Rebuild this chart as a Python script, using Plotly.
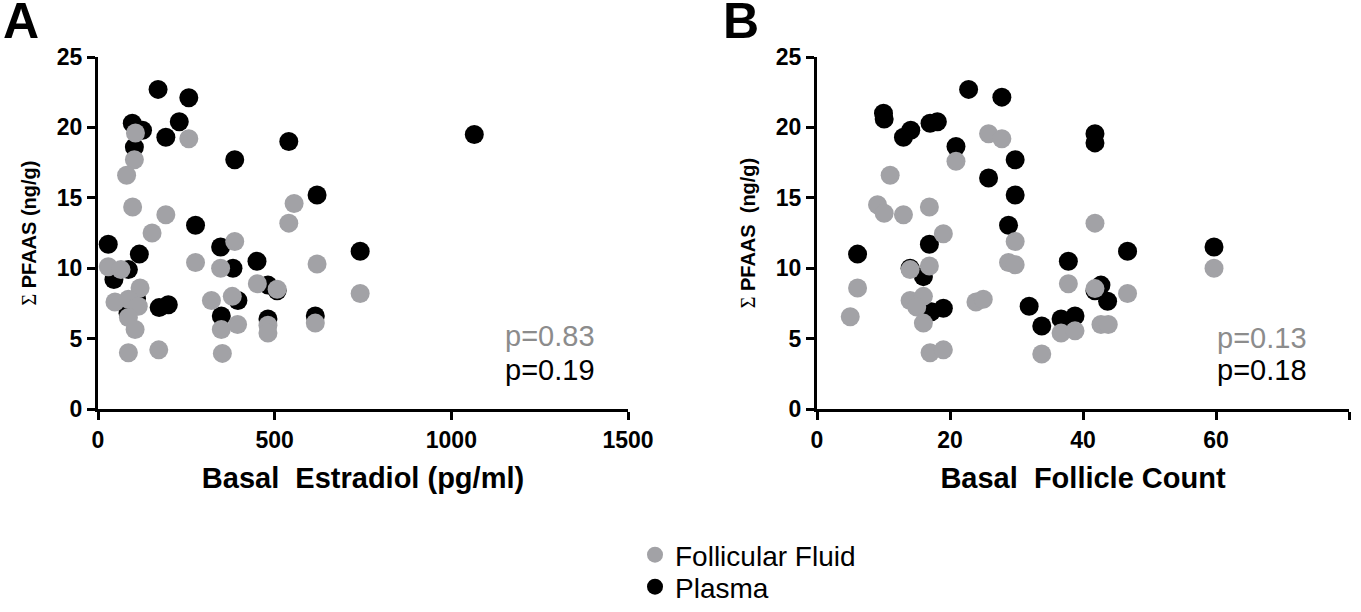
import plotly.graph_objects as go

W, H = 1361, 612

# Panel A: basal estradiol (pg/ml) vs sum PFAAS (ng/g)
ff_e2 = [106, 257, 103, 81, 98, 192, 153, 387, 29, 65, 276, 347, 119, 48, 86, 114, 86,
         105, 321, 380, 451, 507, 349, 395, 481, 481, 86, 172, 352, 555, 540, 620, 742, 615]
ff_pfaas_a = [19.6, 19.2, 17.7, 16.6, 14.35, 13.8, 12.5, 11.9, 10.1, 9.9, 10.4, 10.0, 8.6, 7.6,
              7.8, 7.3, 6.5, 5.65, 7.7, 8.0, 8.9, 8.5, 5.65, 6.0, 5.95, 5.4, 4.0, 4.2, 3.95,
              14.6, 13.2, 10.3, 8.2, 6.1]
pl_e2 = [170, 257, 97, 126, 230, 192, 103, 387, 540, 276, 29, 117, 347, 450, 86, 382, 45,
         109, 173, 199, 396, 481, 507, 349, 481, 620, 742, 615, 1065, 85]
pl_pfaas_a = [22.7, 22.1, 20.3, 19.8, 20.4, 19.3, 18.6, 17.7, 19.0, 13.05, 11.7, 11.0, 11.5,
              10.5, 9.9, 10.0, 9.2, 7.85, 7.2, 7.4, 7.7, 8.8, 8.4, 6.6, 6.4, 15.2, 11.2, 6.6,
              19.5, 6.8]

# Panel B: basal follicle count vs sum PFAAS (ng/g)
ff_afc = [25.8, 27.8, 20.9, 11.0, 9.1, 10.1, 13.0, 16.9, 19.0, 14.0, 16.9, 6.1, 5.0, 14.0,
          16.0, 15.0, 16.0, 23.9, 25.0, 17.0, 19.0, 29.8, 28.8, 29.8, 41.8, 37.8, 41.8, 46.7,
          59.7, 36.7, 38.8, 42.7, 43.8, 33.8]
ff_pfaas_b = [19.55, 19.2, 17.6, 16.6, 14.5, 13.9, 13.8, 14.35, 12.45, 9.9, 10.15, 8.6, 6.55,
              7.7, 8.0, 7.25, 6.1, 7.6, 7.8, 4.0, 4.2, 11.9, 10.4, 10.25, 13.2, 8.9, 8.55, 8.2,
              10.0, 5.4, 5.55, 6.0, 6.0, 3.9]
pl_afc = [22.8, 27.8, 10.0, 10.1, 13.0, 14.1, 17.0, 18.1, 20.9, 25.8, 29.8, 29.8, 28.8, 6.1,
          16.9, 16.0, 14.0, 17.2, 19.0, 41.8, 41.8, 46.7, 59.7, 37.8, 42.7, 41.8, 43.7, 31.9,
          33.8, 36.7, 38.8]
pl_pfaas_b = [22.7, 22.15, 21.0, 20.6, 19.3, 19.8, 20.3, 20.4, 18.65, 16.4, 17.7, 15.2, 13.05,
              11.0, 11.7, 9.4, 10.0, 6.9, 7.15, 19.55, 18.9, 11.2, 11.5, 10.5, 8.8, 8.4, 7.65,
              7.3, 5.9, 6.4, 6.6]

p_a = ["p=0.83", "p=0.19"]
p_b = ["p=0.13", "p=0.18"]

GRAY = "#a2a2a6"
BLACK = "#000000"
FONT = "Liberation Sans, Arial, sans-serif"
MSIZE = 19


def px(x):
    # pixel x -> paper fraction
    return x / W


def py(y):
    # pixel y (from top) -> paper fraction
    return 1 - y / H


fig = go.Figure()

# plasma first so the grey follicular-fluid dots sit on top
fig.add_trace(go.Scatter(x=pl_e2, y=pl_pfaas_a, mode="markers", name="Plasma", legend="legend2",
                         marker=dict(color=BLACK, size=MSIZE, line=dict(width=0)),
                         cliponaxis=False, xaxis="x", yaxis="y"))
fig.add_trace(go.Scatter(x=ff_e2, y=ff_pfaas_a, mode="markers", name="Follicular Fluid", legend="legend",
                         marker=dict(color=GRAY, size=MSIZE, line=dict(width=0)),
                         cliponaxis=False, xaxis="x", yaxis="y"))
fig.add_trace(go.Scatter(x=pl_afc, y=pl_pfaas_b, mode="markers", name="Plasma", showlegend=False,
                         marker=dict(color=BLACK, size=MSIZE, line=dict(width=0)),
                         cliponaxis=False, xaxis="x2", yaxis="y2"))
fig.add_trace(go.Scatter(x=ff_afc, y=ff_pfaas_b, mode="markers", name="Follicular Fluid", showlegend=False,
                         marker=dict(color=GRAY, size=MSIZE, line=dict(width=0)),
                         cliponaxis=False, xaxis="x2", yaxis="y2"))

axis_style = dict(showline=True, linecolor="black", linewidth=3, ticks="outside", ticklen=8,
                  tickwidth=3, tickcolor="black", showgrid=False, zeroline=False,
                  tickfont=dict(family=FONT, size=23, color="black", weight="bold"),
                  automargin=False)

ydom = [py(409), py(57)]
ytitle = "<span style='font-family:Liberation Serif'>Σ</span> <b>PFAAS (ng/g)</b>"
ytitle_b = "<span style='font-family:Liberation Serif'>Σ</span> <b>PFAAS  (ng/g)</b>"
xtitle_font = dict(family=FONT, size=29, color="black")
ytitle_font = dict(family=FONT, size=20, color="black")
# legends stay fully inside the figure so they don't push the bottom margin
legend_style = dict(x=px(635), xanchor="left", yanchor="bottom",
                    font=dict(family=FONT, size=28, color="black"),
                    bgcolor="rgba(0,0,0,0)")

fig.update_layout(
    width=W, height=H,
    margin=dict(l=0, r=0, t=0, b=0),
    paper_bgcolor="white", plot_bgcolor="white",
    font=dict(family=FONT, color="black"),
    xaxis=dict(domain=[px(98), px(628)], range=[0, 1500], tickvals=[0, 500, 1000, 1500],
               anchor="y",
               title=dict(text="<b>Basal  Estradiol (pg/ml)</b>", standoff=17, font=xtitle_font),
               **axis_style),
    yaxis=dict(domain=ydom, range=[0, 25], tickvals=[0, 5, 10, 15, 20, 25], anchor="x",
               title=dict(text=ytitle, standoff=15, font=ytitle_font),
               **axis_style),
    xaxis2=dict(domain=[px(817), px(1349)], range=[0, 80], tickvals=[0, 20, 40, 60, 80],
                anchor="y2",
                title=dict(text="<b>Basal  Follicle Count</b>", standoff=17, font=xtitle_font),
                **axis_style),
    yaxis2=dict(domain=ydom, range=[0, 25], tickvals=[0, 5, 10, 15, 20, 25], anchor="x2",
                title=dict(text=ytitle_b, standoff=15, font=ytitle_font),
                **axis_style),
    legend=dict(y=py(612 - 32), **legend_style),
    legend2=dict(y=py(612), **legend_style),
)

annotations = [
    dict(text="<b>A</b>", x=px(21), y=py(21), font=dict(size=50)),
    dict(text="<b>B</b>", x=px(741), y=py(21), font=dict(size=50)),
    dict(text=p_a[0], x=px(597), y=py(336), xanchor="right", font=dict(size=29, color="#8c8c8c")),
    dict(text=p_a[1], x=px(597), y=py(370), xanchor="right", font=dict(size=29, color="black")),
    dict(text=p_b[0], x=px(1309), y=py(338), xanchor="right", font=dict(size=29, color="#8c8c8c")),
    dict(text=p_b[1], x=px(1309), y=py(370), xanchor="right", font=dict(size=29, color="black")),
]
for a in annotations:
    a.setdefault("xanchor", "center")
    a.setdefault("yanchor", "middle")
    a["font"].setdefault("family", FONT)
    a["font"].setdefault("color", "black")
    fig.add_annotation(xref="paper", yref="paper", showarrow=False, **a)

# drop the default 8px body margin so the figure sits exactly in the window
fig.write_html("out.html", config={"displayModeBar": False},
               post_script="document.body.style.margin='0';document.body.style.overflow='hidden';")
